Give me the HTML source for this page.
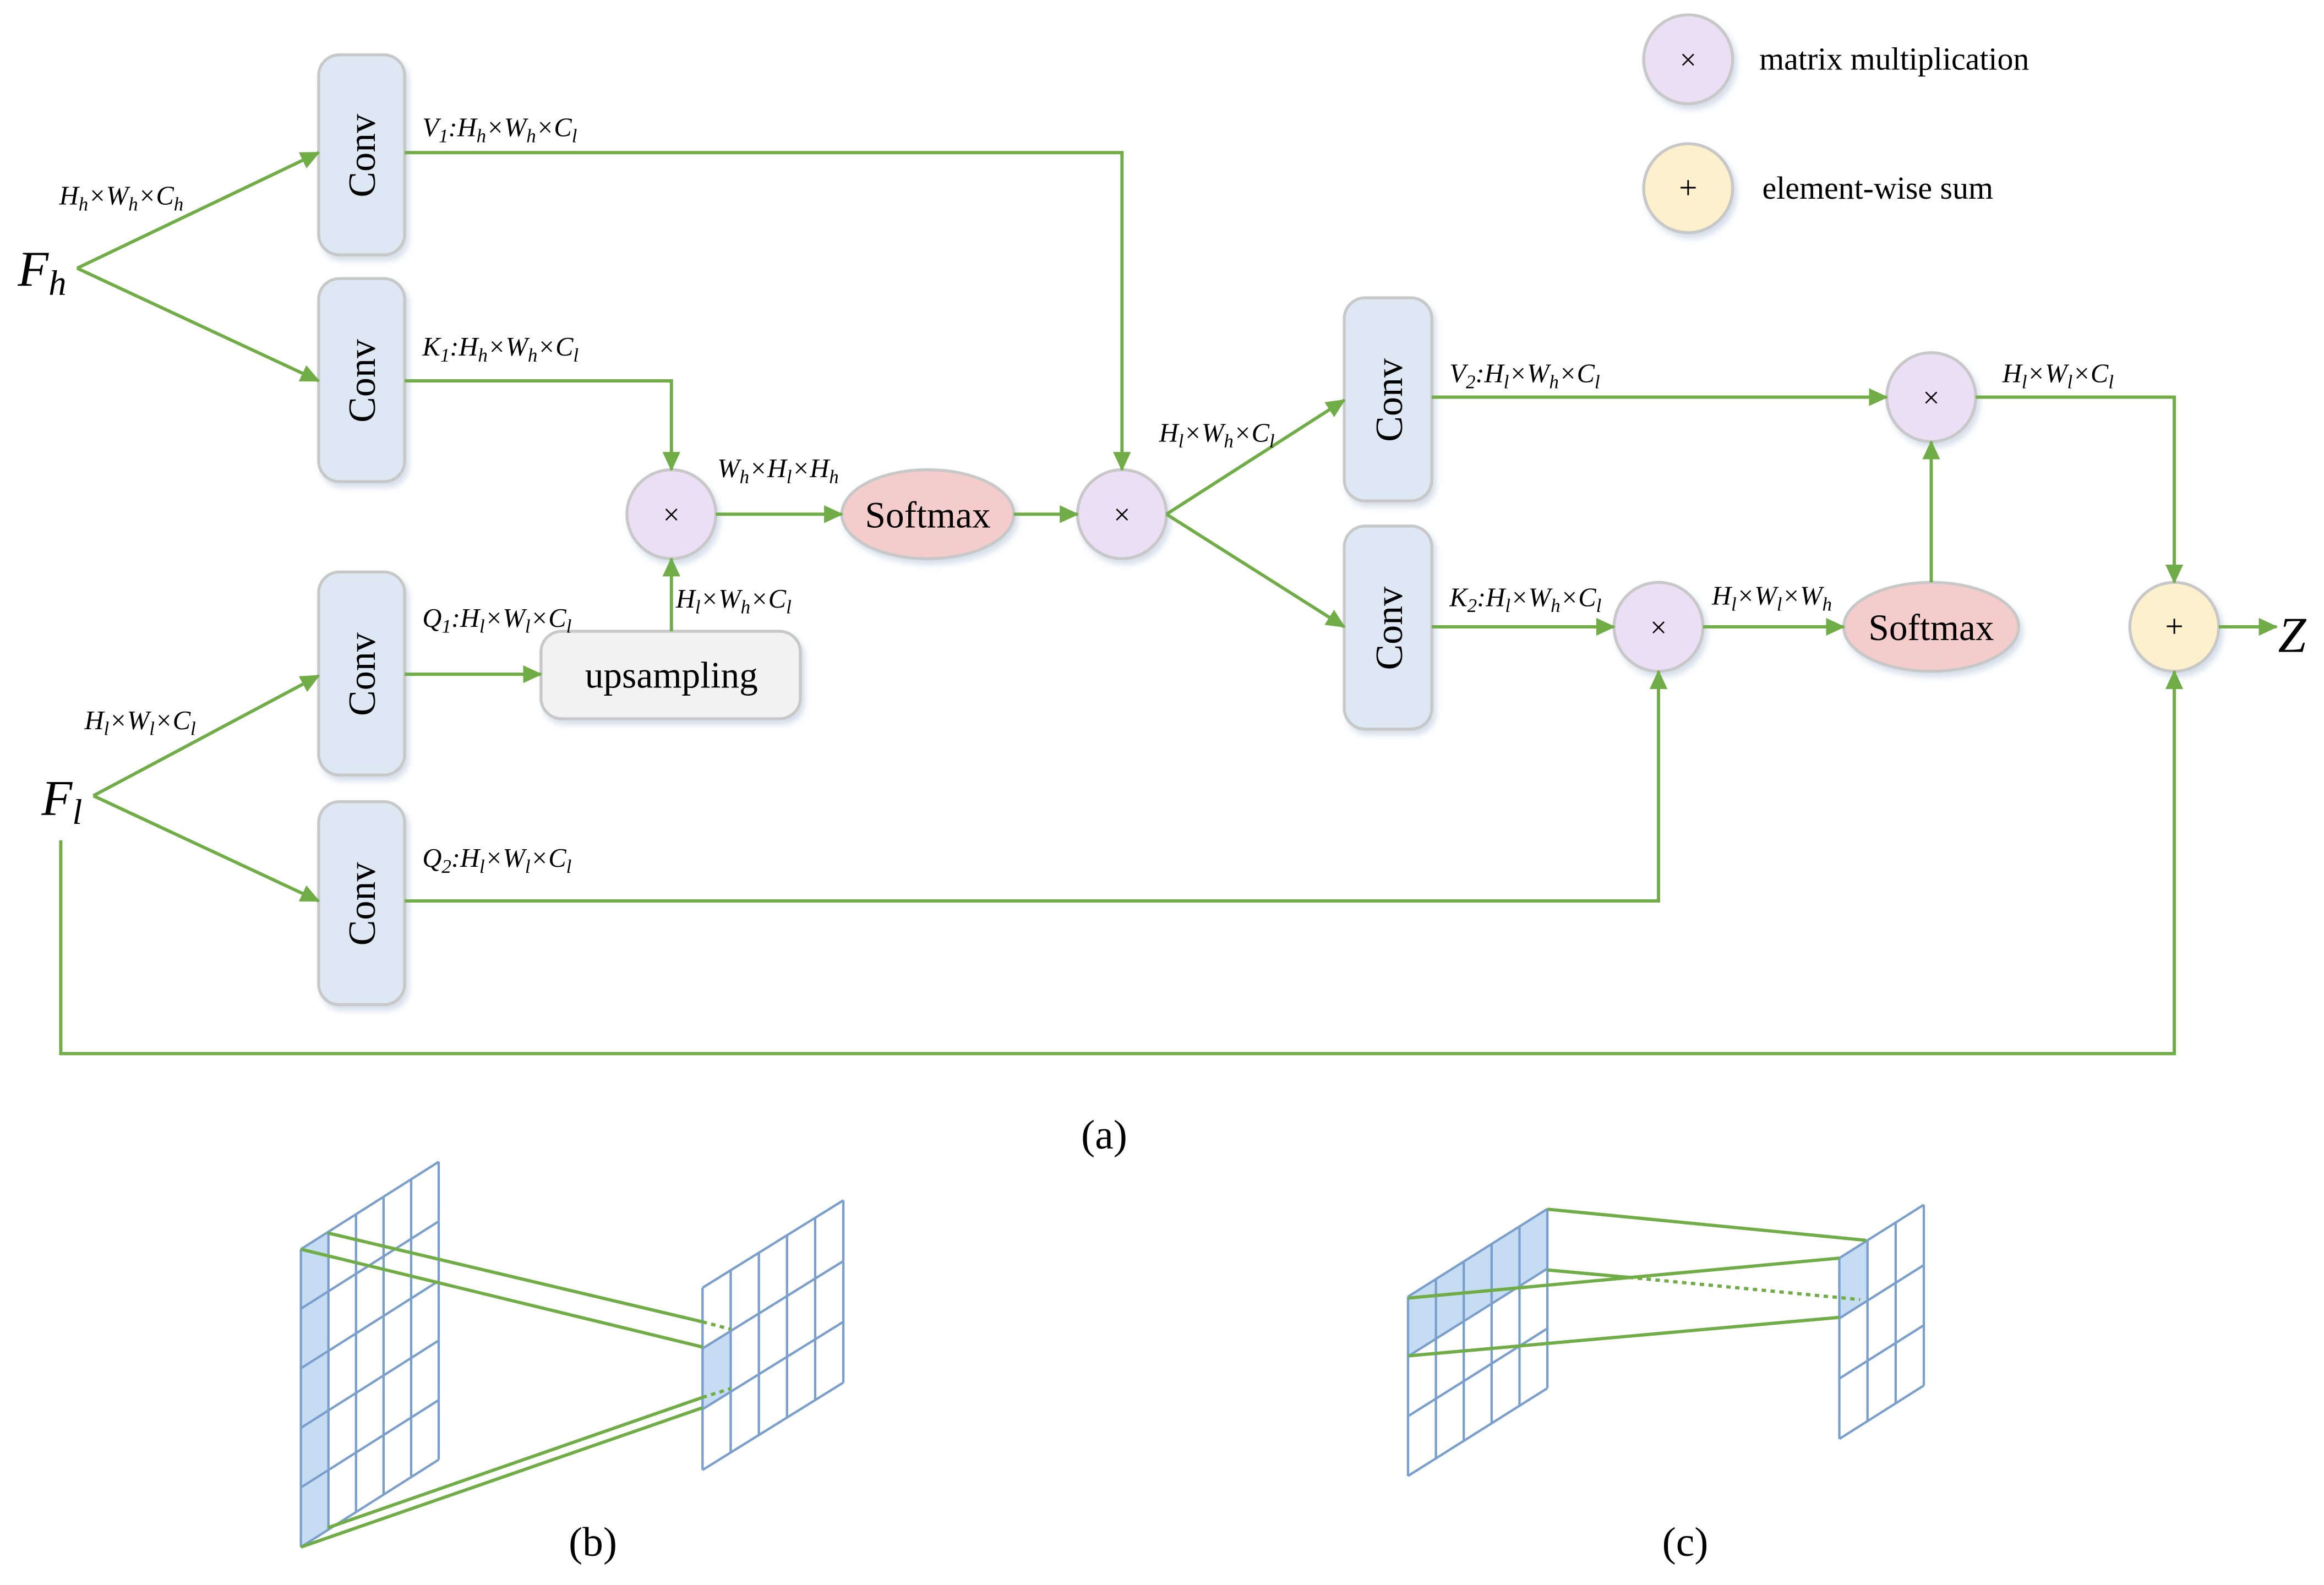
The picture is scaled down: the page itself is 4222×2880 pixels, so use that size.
<!DOCTYPE html>
<html><head><meta charset="utf-8"><style>
html,body{margin:0;padding:0;background:#fff;}
svg{display:block;}
text{font-family:"Liberation Serif",serif;}
.lb{font-style:italic;font-size:18px;}
.g{stroke:#70ad47;stroke-width:2.2;fill:none;}
.gr{stroke:#7a9fcc;stroke-width:1.6;fill:none;}
.conv{fill:#dde8f4;stroke:#c8c8c8;stroke-width:2;}
</style></head><body>
<svg width="4222" height="2880" viewBox="0 0 1568 1069.6" xmlns="http://www.w3.org/2000/svg">
<defs>
<marker id="A" markerWidth="13" markerHeight="12" refX="12" refY="6" orient="auto" markerUnits="userSpaceOnUse"><path d="M0,0 L13,6 L0,12 z" fill="#70ad47"/></marker>
<filter id="sh" x="-20%" y="-20%" width="150%" height="150%"><feDropShadow dx="2" dy="3" stdDeviation="2" flood-color="#b8c8dc" flood-opacity="0.6"/></filter>
</defs>

<g filter="url(#sh)">
<rect class="conv" x="215" y="37" width="58" height="135" rx="14"/>
<rect class="conv" x="215" y="188" width="58" height="137" rx="14"/>
<rect class="conv" x="215" y="386" width="58" height="137" rx="14"/>
<rect class="conv" x="215" y="541" width="58" height="137" rx="14"/>
<rect class="conv" x="907" y="201" width="59" height="137" rx="14"/>
<rect class="conv" x="907" y="355" width="59" height="137" rx="14"/>
<rect x="365" y="426" width="175" height="59" rx="14" fill="#f2f2f2" stroke="#c8c8c8" stroke-width="2"/>
<ellipse cx="626" cy="347" rx="58" ry="30" fill="#f4cccc" stroke="#c8c8c8" stroke-width="2"/>
<ellipse cx="1303" cy="423" rx="59" ry="30" fill="#f4cccc" stroke="#c8c8c8" stroke-width="2"/>
<circle cx="453" cy="347" r="30" fill="#eadff4" stroke="#c8c8c8" stroke-width="2"/>
<circle cx="757" cy="347" r="30" fill="#eadff4" stroke="#c8c8c8" stroke-width="2"/>
<circle cx="1303" cy="268" r="30" fill="#eadff4" stroke="#c8c8c8" stroke-width="2"/>
<circle cx="1119" cy="423" r="30" fill="#eadff4" stroke="#c8c8c8" stroke-width="2"/>
<circle cx="1467" cy="423" r="30" fill="#fdf0cc" stroke="#c8c8c8" stroke-width="2"/>
<circle cx="1139" cy="40" r="30" fill="#eadff4" stroke="#c8c8c8" stroke-width="2"/>
<circle cx="1139" cy="127" r="30" fill="#fdf0cc" stroke="#c8c8c8" stroke-width="2"/>
</g>

<g font-size="26" text-anchor="middle">
<text transform="translate(253,105) rotate(-90)">Conv</text>
<text transform="translate(253,257) rotate(-90)">Conv</text>
<text transform="translate(253,455) rotate(-90)">Conv</text>
<text transform="translate(253,610) rotate(-90)">Conv</text>
<text transform="translate(946,270) rotate(-90)">Conv</text>
<text transform="translate(946,424) rotate(-90)">Conv</text>
<text x="453" y="464" font-size="25">upsampling</text>
<text x="626" y="356" font-size="25">Softmax</text>
<text x="1303" y="432" font-size="25">Softmax</text>
</g>
<g font-size="20" text-anchor="middle">
<text x="453" y="354">×</text><text x="757" y="354">×</text><text x="1303" y="275">×</text>
<text x="1119" y="430">×</text><text x="1139" y="47">×</text>
<text x="1467" y="430" font-size="22">+</text><text x="1139" y="134" font-size="22">+</text>
</g>
<text x="1187" y="47" font-size="21.5">matrix multiplication</text>
<text x="1189" y="134" font-size="21.5">element-wise sum</text>

<g class="g">
<path d="M52,181 L215,103" marker-end="url(#A)"/>
<path d="M52,181 L215,257" marker-end="url(#A)"/>
<path d="M63,537 L215,456" marker-end="url(#A)"/>
<path d="M63,537 L215,608" marker-end="url(#A)"/>
<path d="M41,567 L41,711 L1467,711 L1467,453" marker-end="url(#A)"/>
<path d="M273,103 L757,103 L757,317" marker-end="url(#A)"/>
<path d="M273,257 L453,257 L453,317" marker-end="url(#A)"/>
<path d="M273,455 L365,455" marker-end="url(#A)"/>
<path d="M453,426 L453,377" marker-end="url(#A)"/>
<path d="M483,347 L568,347" marker-end="url(#A)"/>
<path d="M684,347 L727,347" marker-end="url(#A)"/>
<path d="M787,347 L907,270" marker-end="url(#A)"/>
<path d="M787,347 L907,423" marker-end="url(#A)"/>
<path d="M966,268 L1273,268" marker-end="url(#A)"/>
<path d="M966,423 L1089,423" marker-end="url(#A)"/>
<path d="M1149,423 L1244,423" marker-end="url(#A)"/>
<path d="M1303,393 L1303,298" marker-end="url(#A)"/>
<path d="M1333,268 L1467,268 L1467,393" marker-end="url(#A)"/>
<path d="M273,608 L1119,608 L1119,453" marker-end="url(#A)"/>
<path d="M1497,423 L1536,423" marker-end="url(#A)"/>
</g>

<text x="12" y="193" font-size="34" font-style="italic">F<tspan font-size="24" dy="6">h</tspan></text>
<text x="28" y="550" font-size="34" font-style="italic">F<tspan font-size="24" dy="6">l</tspan></text>
<text x="1537" y="440" font-size="34" font-style="italic">Z</text>

<g class="lb">
<text x="40" y="138">H<tspan font-size="13" dy="4">h</tspan><tspan dy="-4">×W</tspan><tspan font-size="13" dy="4">h</tspan><tspan dy="-4">×C</tspan><tspan font-size="13" dy="4">h</tspan></text>
<text x="57" y="492">H<tspan font-size="13" dy="4">l</tspan><tspan dy="-4">×W</tspan><tspan font-size="13" dy="4">l</tspan><tspan dy="-4">×C</tspan><tspan font-size="13" dy="4">l</tspan></text>
<text x="285" y="92">V<tspan font-size="13" dy="4">1</tspan><tspan dy="-4">:H</tspan><tspan font-size="13" dy="4">h</tspan><tspan dy="-4">×W</tspan><tspan font-size="13" dy="4">h</tspan><tspan dy="-4">×C</tspan><tspan font-size="13" dy="4">l</tspan></text>
<text x="285" y="240">K<tspan font-size="13" dy="4">1</tspan><tspan dy="-4">:H</tspan><tspan font-size="13" dy="4">h</tspan><tspan dy="-4">×W</tspan><tspan font-size="13" dy="4">h</tspan><tspan dy="-4">×C</tspan><tspan font-size="13" dy="4">l</tspan></text>
<text x="285" y="423">Q<tspan font-size="13" dy="4">1</tspan><tspan dy="-4">:H</tspan><tspan font-size="13" dy="4">l</tspan><tspan dy="-4">×W</tspan><tspan font-size="13" dy="4">l</tspan><tspan dy="-4">×C</tspan><tspan font-size="13" dy="4">l</tspan></text>
<text x="285" y="585">Q<tspan font-size="13" dy="4">2</tspan><tspan dy="-4">:H</tspan><tspan font-size="13" dy="4">l</tspan><tspan dy="-4">×W</tspan><tspan font-size="13" dy="4">l</tspan><tspan dy="-4">×C</tspan><tspan font-size="13" dy="4">l</tspan></text>
<text x="456" y="410">H<tspan font-size="13" dy="4">l</tspan><tspan dy="-4">×W</tspan><tspan font-size="13" dy="4">h</tspan><tspan dy="-4">×C</tspan><tspan font-size="13" dy="4">l</tspan></text>
<text x="484" y="322">W<tspan font-size="13" dy="4">h</tspan><tspan dy="-4">×H</tspan><tspan font-size="13" dy="4">l</tspan><tspan dy="-4">×H</tspan><tspan font-size="13" dy="4">h</tspan></text>
<text x="782" y="298">H<tspan font-size="13" dy="4">l</tspan><tspan dy="-4">×W</tspan><tspan font-size="13" dy="4">h</tspan><tspan dy="-4">×C</tspan><tspan font-size="13" dy="4">l</tspan></text>
<text x="978" y="258">V<tspan font-size="13" dy="4">2</tspan><tspan dy="-4">:H</tspan><tspan font-size="13" dy="4">l</tspan><tspan dy="-4">×W</tspan><tspan font-size="13" dy="4">h</tspan><tspan dy="-4">×C</tspan><tspan font-size="13" dy="4">l</tspan></text>
<text x="978" y="409">K<tspan font-size="13" dy="4">2</tspan><tspan dy="-4">:H</tspan><tspan font-size="13" dy="4">l</tspan><tspan dy="-4">×W</tspan><tspan font-size="13" dy="4">h</tspan><tspan dy="-4">×C</tspan><tspan font-size="13" dy="4">l</tspan></text>
<text x="1155" y="408">H<tspan font-size="13" dy="4">l</tspan><tspan dy="-4">×W</tspan><tspan font-size="13" dy="4">l</tspan><tspan dy="-4">×W</tspan><tspan font-size="13" dy="4">h</tspan></text>
<text x="1351" y="258">H<tspan font-size="13" dy="4">l</tspan><tspan dy="-4">×W</tspan><tspan font-size="13" dy="4">l</tspan><tspan dy="-4">×C</tspan><tspan font-size="13" dy="4">l</tspan></text>
</g>

<g font-size="28" text-anchor="middle">
<text x="745" y="775">(a)</text>
<text x="400" y="1050">(b)</text>
<text x="1137" y="1050">(c)</text>
</g>

<polygon points="203,843 221.6,831.2 221.6,1032.2 203,1044" fill="#c5dcf3"/>
<polygon points="474,910 493,898.2 493,939.2 474,951" fill="#c5dcf3"/>
<g class="gr">
<path d="M203,843V1044 M221.6,831.2V1032.2 M240.2,819.4V1020.4 M258.8,807.6V1008.6 M277.4,795.8V996.8 M296,784V985"/>
<path d="M203,843L296,784 M203,883.2L296,824.2 M203,923.4L296,864.4 M203,963.6L296,904.6 M203,1003.8L296,944.8 M203,1044L296,985"/>
<path d="M474,869V992 M493,857.2V980.2 M512,845.4V968.4 M531,833.7V956.7 M550,821.9V944.9 M569,810.1V933.1"/>
<path d="M474,869L569,810 M474,910L569,851 M474,951L569,892 M474,992L569,933"/>
</g>
<g class="g">
<path d="M221,832L474,892 M203,843L474,909 M221,1031L474,943 M203,1044L474,950"/>
<path d="M474,892L493,897 M474,943L493,937" stroke-dasharray="3,3"/>
</g>

<polygon points="950,875 1044,815.8 1044,856.1 950,915.3" fill="#c5dcf3"/>
<polygon points="1241,849 1260,837 1260,877.7 1241,889.7" fill="#c5dcf3"/>
<g class="gr">
<path d="M950,875V996 M968.8,863.2V984.2 M987.6,851.3V972.3 M1006.4,839.5V960.5 M1025.2,827.6V948.6 M1044,815.8V936.8"/>
<path d="M950,875L1044,815.8 M950,915.3L1044,856.1 M950,955.7L1044,896.5 M950,996L1044,936.8"/>
<path d="M1241,849V971 M1260,837V959 M1279,825V947 M1298,813V935"/>
<path d="M1241,849L1298,813 M1241,889.7L1298,853.7 M1241,930.3L1298,894.3 M1241,971L1298,935"/>
</g>
<g class="g">
<path d="M1044,816L1259,837 M950,876L1241,849 M1044,857L1099,862 M950,915L1241,889"/>
<path d="M1099,862L1255,877" stroke-dasharray="3,3"/>
</g>
</svg>
</body></html>
